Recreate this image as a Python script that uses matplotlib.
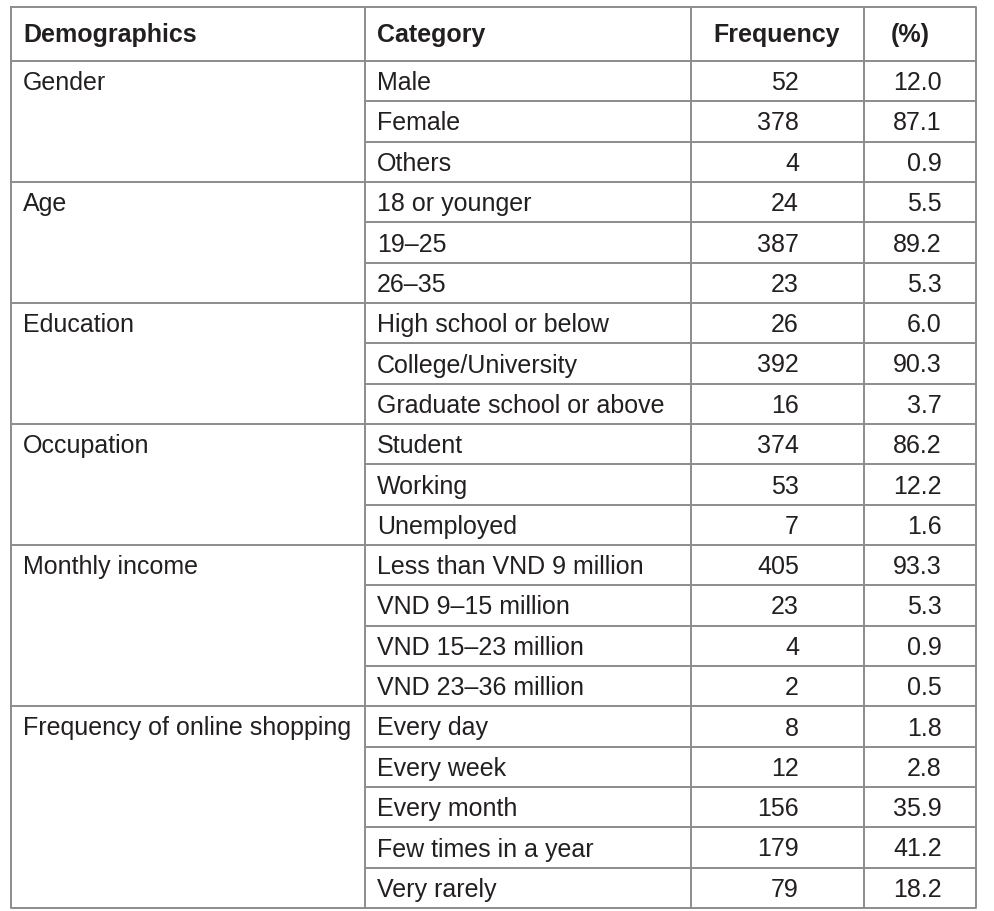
import matplotlib.pyplot as plt

plt.rcParams['font.family'] = ['Liberation Sans', 'DejaVu Sans']

headers = ["Demographics", "Category", "Frequency", "(%)"]
groups = ["Gender", "Age", "Education", "Occupation", "Monthly income",
          "Frequency of online shopping"]
group_sizes = [3, 3, 3, 3, 4, 5]
categories = ["Male", "Female", "Others",
              "18 or younger", "19\u201325", "26\u201335",
              "High school or below", "College/University", "Graduate school or above",
              "Student", "Working", "Unemployed",
              "Less than VND 9 million", "VND 9\u201315 million", "VND 15\u201323 million",
              "VND 23\u201336 million",
              "Every day", "Every week", "Every month", "Few times in a year", "Very rarely"]
frequency = [52, 378, 4, 24, 387, 23, 26, 392, 16, 374, 53, 7, 405, 23, 4, 2,
             8, 12, 156, 179, 79]
percent = [12.0, 87.1, 0.9, 5.5, 89.2, 5.3, 6.0, 90.3, 3.7, 86.2, 12.2, 1.6,
           93.3, 5.3, 0.9, 0.5, 1.8, 2.8, 35.9, 41.2, 18.2]

W, H = 995, 911
fig = plt.figure(figsize=(W / 100, H / 100), dpi=100)
ax = fig.add_axes([0, 0, 1, 1])
ax.set_xlim(0, W)
ax.set_ylim(H, 0)
ax.axis("off")

# table geometry (pixels)
x_cols = [11, 365, 691, 864, 976]
y_top, y_head = 7, 61
row_h = (908 - y_head) / len(categories)
line_c = "#8c8c8c"
txt_c = "#231f20"
fs = 18
lw = 1.4

# header
yc = (y_top + y_head) / 2 + 1
ax.text(23, yc, headers[0], fontsize=fs, fontweight="bold", color=txt_c, va="center")
ax.text(377, yc, headers[1], fontsize=fs, fontweight="bold", color=txt_c, va="center")
ax.text(777, yc, headers[2], fontsize=fs, fontweight="bold", color=txt_c, va="center", ha="center")
ax.text(910, yc, headers[3], fontsize=fs, fontweight="bold", color=txt_c, va="center", ha="center")

# outer border and header line
ax.plot([x_cols[0], x_cols[-1], x_cols[-1], x_cols[0], x_cols[0]],
        [y_top, y_top, 908, 908, y_top], color=line_c, lw=lw)
ax.plot([x_cols[0], x_cols[-1]], [y_head, y_head], color=line_c, lw=lw)
for xc in x_cols[1:-1]:
    ax.plot([xc, xc], [y_top, 908], color=line_c, lw=lw)

# body rows
i = 0
for g, n in zip(groups, group_sizes):
    y0 = y_head + i * row_h
    ax.text(23, y0 + row_h / 2 + 2, g, fontsize=fs, color=txt_c, va="center")
    if i > 0:
        ax.plot([x_cols[0], x_cols[1]], [y0, y0], color=line_c, lw=lw)
    for k in range(n):
        y = y_head + (i + k) * row_h
        if i + k > 0:
            ax.plot([x_cols[1], x_cols[-1]], [y, y], color=line_c, lw=lw)
        ym = y + row_h / 2 + 2
        ax.text(377, ym, categories[i + k], fontsize=fs, color=txt_c, va="center")
        ax.text(799, ym, str(frequency[i + k]), fontsize=fs, color=txt_c, va="center", ha="right")
        ax.text(942, ym, f"{percent[i + k]:.1f}", fontsize=fs, color=txt_c, va="center", ha="right")
    i += n

fig.savefig("out.png", dpi=100)
